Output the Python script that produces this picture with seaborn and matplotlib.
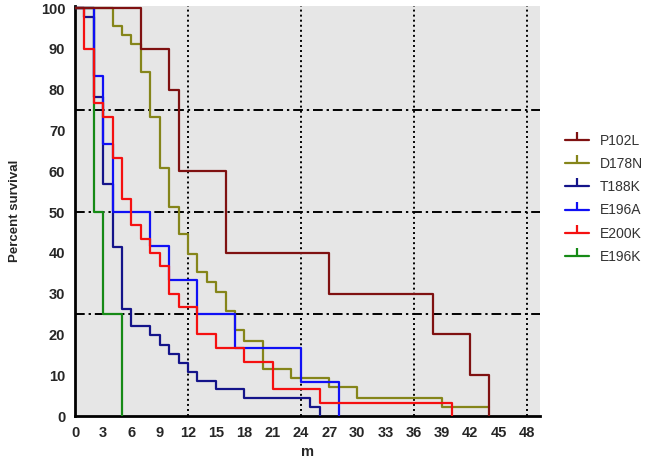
import pandas as pd
import matplotlib
matplotlib.use("Agg")
import matplotlib.pyplot as plt
from matplotlib.lines import Line2D
import seaborn as sns

sns.set_style("white")
plt.rcParams["font.family"] = ["Liberation Sans", "DejaVu Sans"]

# ------------------------------------------------------------------
# Kaplan-Meier step data (months, percent survival)
# ------------------------------------------------------------------
groups = ["P102L", "D178N", "T188K", "E196A", "E200K", "E196K"]
colors = ["#7F1111", "#85851A", "#14148A", "#1010F5", "#F51010", "#168A16"]

p102l_t = [0, 7, 10, 11, 16, 27, 38, 42, 44]
p102l_s = [100, 90, 80, 60, 40, 30, 20, 10, 0]

d178n_t = [0, 4, 5, 6, 7, 8, 9, 10, 11, 12, 13, 14, 15, 16, 17, 18, 20, 23, 27, 30, 39, 44]
d178n_s = [100, 95.6, 93.3, 91.1, 84.4, 73.3, 60.8, 51.3, 44.5, 39.8, 35.4, 32.9, 30.4,
           25.7, 21.1, 18.5, 11.5, 9.2, 7.0, 4.5, 2.2, 2.2]

t188k_t = [0, 1, 2, 3, 4, 5, 6, 8, 9, 10, 11, 12, 13, 15, 18, 25, 26]
t188k_s = [100, 97.8, 78.3, 56.8, 41.4, 26.2, 22.0, 19.8, 17.4, 15.3, 13.1, 10.9, 8.7,
           6.6, 4.4, 2.2, 0]

e196a_t = [0, 2, 3, 4, 8, 10, 13, 17, 24, 28]
e196a_s = [100, 83.3, 66.7, 50, 41.7, 33.3, 25, 16.7, 8.3, 0]

e200k_t = [0, 1, 2, 3, 4, 5, 6, 7, 8, 9, 10, 11, 13, 15, 18, 21, 26, 40]
e200k_s = [100, 90, 76.7, 73.3, 63.3, 53.3, 46.7, 43.3, 40, 36.7, 30, 26.7, 20, 16.7,
           13.3, 6.7, 3.3, 0]

e196k_t = [0, 2, 3, 5]
e196k_s = [100, 50, 25, 0]

series = {
    "P102L": (p102l_t, p102l_s),
    "D178N": (d178n_t, d178n_s),
    "T188K": (t188k_t, t188k_s),
    "E196A": (e196a_t, e196a_s),
    "E200K": (e200k_t, e200k_s),
    "E196K": (e196k_t, e196k_s),
}

rows = []
for g, (t, s) in series.items():
    for ti, si in zip(t, s):
        rows.append({"group": g, "month": ti, "survival": si})
df = pd.DataFrame(rows)

x_ticks = list(range(0, 49, 3))
y_ticks = list(range(0, 101, 10))

# ------------------------------------------------------------------
# Plot
# ------------------------------------------------------------------
fig = plt.figure(figsize=(6.45, 4.62), dpi=100)
ax = fig.add_axes([75 / 645, 1 - 416 / 462, (540 - 75) / 645, (416 - 6) / 462])
ax.set_facecolor("#E6E6E6")

for x in [12, 24, 36, 48]:
    ax.axvline(x, color="black", lw=1.4, linestyle=(0, (1, 1.6)), zorder=1)
for y in [25, 50, 75]:
    ax.axhline(y, color="black", lw=1.4, linestyle=(0, (5, 2, 1.2, 2)), zorder=1)

# green first so it sits underneath like the reference
draw_order = ["E196K", "D178N", "T188K", "E196A", "E200K", "P102L"]
palette = dict(zip(groups, colors))
for g in draw_order:
    sub = df[df["group"] == g]
    sns.lineplot(data=sub, x="month", y="survival", color=palette[g], lw=1.6,
                 drawstyle="steps-post", estimator=None, sort=False, ax=ax,
                 legend=False, zorder=3)

ax.set_xlim(0, 49.4)
ax.set_ylim(0, 100.5)
ax.set_xticks(x_ticks)
ax.set_yticks(y_ticks)
ax.tick_params(axis="both", direction="out", length=5, width=2, labelsize=10.5,
               color="black", pad=2)
for lab in ax.get_xticklabels() + ax.get_yticklabels():
    lab.set_fontweight("bold")

for side in ["top", "right"]:
    ax.spines[side].set_visible(False)
for side in ["left", "bottom"]:
    ax.spines[side].set_color("black")
    ax.spines[side].set_linewidth(2)

ax.set_xlabel("m", fontsize=10.5, fontweight="bold", labelpad=4)
ax.set_ylabel("Percent survival", fontsize=9.5, fontweight="bold", labelpad=14)

handles = [Line2D([0], [0], color=c, lw=1.6, marker=2, markersize=6,
                  markeredgewidth=1.6) for c in colors]
fig.legend(handles, groups, loc="upper left", bbox_to_anchor=(0.876, 0.710),
           frameon=False, fontsize=10, handlelength=1.7, handletextpad=0.8,
           labelspacing=0.66, borderpad=0, borderaxespad=0, labelcolor="#333333")

fig.savefig("out.png", dpi=100)
